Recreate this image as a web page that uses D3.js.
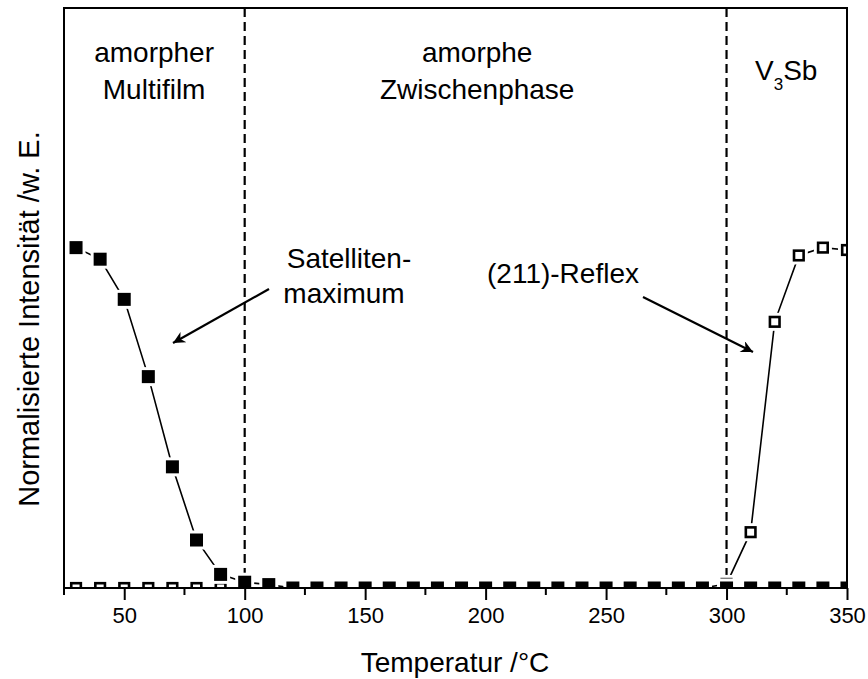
<!DOCTYPE html>
<html>
<head>
<meta charset="utf-8">
<script src="https://cdn.jsdelivr.net/npm/d3@7"></script>
<style>
  body { margin: 0; background: #fff; }
  svg text { font-family: "Liberation Sans", Arial, sans-serif; fill: #000; }
</style>
</head>
<body>
<div id="chart"></div>
<script>
// temperatures (°C) of the measured points
var temps = [30, 40, 50, 60, 70, 80, 90, 100, 110, 120, 130, 140, 150, 160, 170, 180, 190,
             200, 210, 220, 230, 240, 250, 260, 270, 280, 290, 300, 310, 320, 330, 340, 350];

// normalised intensity of the satellite maximum (filled squares)
var satellite = [1.0, 0.966, 0.848, 0.621, 0.356, 0.141, 0.040, 0.017, 0.010, 0, 0, 0, 0, 0, 0, 0, 0,
                 0, 0, 0, 0, 0, 0, 0, 0, 0, 0, 0, 0, 0, 0, 0, 0];

// normalised intensity of the (211) reflex (open squares)
var reflex = [0, 0, 0, 0, 0, 0, 0, 0, 0, 0, 0, 0, 0, 0, 0, 0, 0,
              0, 0, 0, 0, 0, 0, 0, 0, 0, 0, 0.012, 0.164, 0.782, 0.977, 1.0, 0.993];

var majorTicks = [50, 100, 150, 200, 250, 300, 350];
var minorTicks = [25, 75, 125, 175, 225, 275, 325];
var phaseBorders = [100, 300];

var W = 868, H = 679;
var margin = {top: 8, right: 21, bottom: 91, left: 64};

var svg = d3.select("#chart").append("svg")
    .attr("width", W)
    .attr("height", H);

var x = d3.scaleLinear().domain([25, 350]).range([margin.left, W - margin.right]);
var y = d3.scaleLinear().domain([0, 1.704]).range([H - margin.bottom, margin.top]);

svg.append("clipPath").attr("id", "plotClip")
  .append("rect")
    .attr("x", x(25))
    .attr("y", y(1.704))
    .attr("width", x(350) - x(25))
    .attr("height", y(0) - y(1.704));

var plot = svg.append("g").attr("clip-path", "url(#plotClip)");

// dashed phase borders
plot.selectAll(".border")
    .data(phaseBorders)
    .enter().append("line")
    .attr("class", "border")
    .attr("x1", d => x(d)).attr("x2", d => x(d))
    .attr("y1", y(1.704)).attr("y2", y(0))
    .attr("stroke", "#000")
    .attr("stroke-width", 2.2)
    .attr("stroke-dasharray", "9,5");

var line = d3.line().x(d => x(d.t)).y(d => y(d.v));

function drawSeries(values, filled) {
    var pts = temps.map((t, i) => ({t: t, v: values[i]}));
    var g = plot.append("g");
    g.append("path")
        .datum(pts)
        .attr("d", line)
        .attr("fill", "none")
        .attr("stroke", "#000")
        .attr("stroke-width", 1.6);
    // white halo so the line stops short of each marker
    var halo = filled ? 19 : 18;
    g.selectAll(".halo")
        .data(pts)
        .enter().append("rect")
        .attr("class", "halo")
        .attr("x", d => x(d.t) - halo / 2)
        .attr("y", d => y(d.v) - halo / 2)
        .attr("width", halo).attr("height", halo)
        .attr("fill", "#fff");
    var s = filled ? 13 : 9.6;
    g.selectAll(".mark")
        .data(pts)
        .enter().append("rect")
        .attr("class", "mark")
        .attr("x", d => x(d.t) - s / 2)
        .attr("y", d => y(d.v) - s / 2)
        .attr("width", s).attr("height", s)
        .attr("fill", filled ? "#000" : "#fff")
        .attr("stroke", filled ? "none" : "#000")
        .attr("stroke-width", filled ? 0 : 2.6);
}

drawSeries(reflex, false);
drawSeries(satellite, true);

// frame
svg.append("rect")
    .attr("x", x(25)).attr("y", y(1.704))
    .attr("width", x(350) - x(25))
    .attr("height", y(0) - y(1.704))
    .attr("fill", "none")
    .attr("stroke", "#000")
    .attr("stroke-width", 2);

// x axis ticks
var xAxis = svg.append("g")
    .attr("transform", "translate(0," + y(0) + ")")
    .call(d3.axisBottom(x).tickValues(majorTicks).tickSize(12).tickPadding(7).tickFormat(d3.format("d")));
xAxis.select(".domain").remove();
xAxis.selectAll("line").attr("stroke-width", 2);
xAxis.selectAll("text")
    .style("font-size", "22px")
    .style("font-family", "Liberation Sans, Arial, sans-serif");

svg.append("g").selectAll("line")
    .data(minorTicks)
    .enter().append("line")
    .attr("x1", d => x(d)).attr("x2", d => x(d))
    .attr("y1", y(0)).attr("y2", y(0) + 7)
    .attr("stroke", "#000")
    .attr("stroke-width", 2);

// axis titles
svg.append("text")
    .attr("x", 455).attr("y", 672)
    .attr("text-anchor", "middle")
    .style("font-size", "28px")
    .text("Temperatur /°C");

svg.append("text")
    .attr("transform", "translate(39," + 319 + ") rotate(-90)")
    .attr("text-anchor", "middle")
    .style("font-size", "29px")
    .text("Normalisierte Intensität /w. E.");

// phase labels
function twoLines(cx, l1, l2) {
    var t = svg.append("text")
        .attr("text-anchor", "middle")
        .style("font-size", "28px");
    t.append("tspan").attr("x", cx).attr("y", 62).text(l1);
    t.append("tspan").attr("x", cx).attr("y", 99).text(l2);
}
twoLines(x(62.4), "amorpher", "Multifilm");
twoLines(x(196.5), "amorphe", "Zwischenphase");

var v3sb = svg.append("text")
    .attr("x", 755).attr("y", 80)
    .style("font-size", "28px");
v3sb.append("tspan").text("V");
v3sb.append("tspan").attr("dy", 10).style("font-size", "17px").text("3");
v3sb.append("tspan").attr("dy", -10).text("Sb");

// annotations
var sat = svg.append("text")
    .attr("text-anchor", "middle")
    .style("font-size", "28px");
sat.append("tspan").attr("x", 349).attr("y", 268).text("Satelliten-");
sat.append("tspan").attr("x", 344).attr("y", 303).text("maximum");

svg.append("text")
    .attr("x", 487).attr("y", 283)
    .style("font-size", "28px")
    .text("(211)-Reflex");

svg.append("defs").append("marker")
    .attr("id", "arrow")
    .attr("viewBox", "0 0 10 10")
    .attr("refX", 10).attr("refY", 5)
    .attr("markerWidth", 18).attr("markerHeight", 12)
    .attr("markerUnits", "userSpaceOnUse")
    .attr("orient", "auto")
  .append("path")
    .attr("d", "M0,0 L10,5 L0,10 L3,5 Z")
    .attr("fill", "#000");

var arrows = [
    {x1: 269, y1: 289, x2: 173, y2: 343},
    {x1: 643, y1: 297, x2: 753, y2: 352}
];
svg.selectAll(".arrow")
    .data(arrows)
    .enter().append("line")
    .attr("class", "arrow")
    .attr("x1", d => d.x1).attr("y1", d => d.y1)
    .attr("x2", d => d.x2).attr("y2", d => d.y2)
    .attr("stroke", "#000")
    .attr("stroke-width", 2.2)
    .attr("marker-end", "url(#arrow)");
</script>
</body>
</html>
